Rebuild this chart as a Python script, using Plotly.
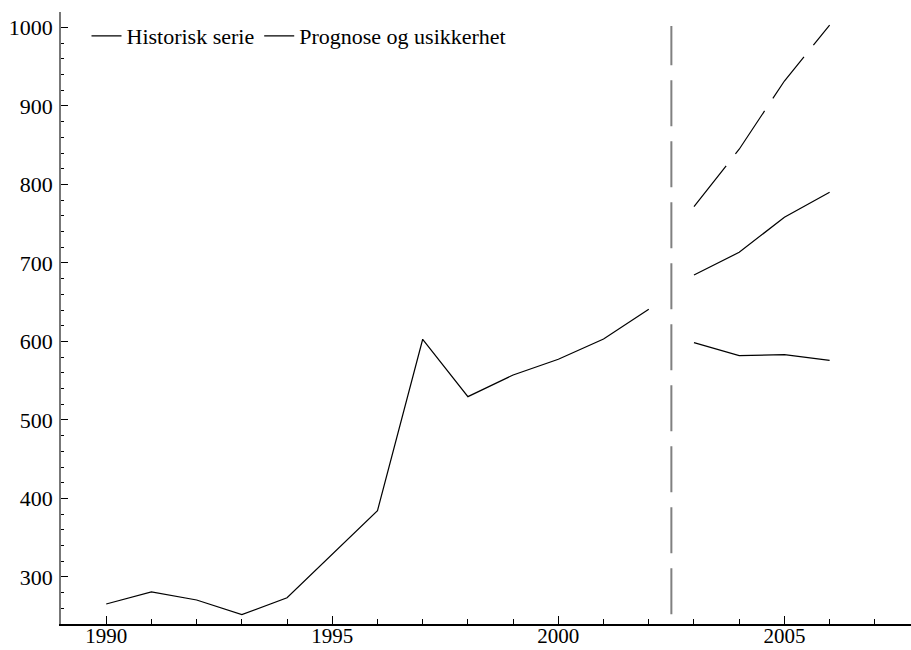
import plotly.graph_objects as go

# Historical series
hist_years = [1990, 1991, 1992, 1993, 1994, 1995, 1996, 1997, 1998, 1999, 2000, 2001, 2002]
hist_values = [265.6, 280.9, 270.7, 252.0, 273.6, 329.7, 384.5, 602.8, 529.7, 557.3, 577.3, 603.2, 641.0]

# Forecast and uncertainty band
fc_years = [2003, 2004, 2005, 2006]
fc_mid = [684.7, 713.6, 758.2, 790.0]
fc_low = [598.5, 581.9, 583.2, 576.0]
fc_high = [771.8, 844.9, 931.8, 1003.0]

# Vertical divider between history and forecast
divider_x = [2002.5, 2002.5]
divider_y = [252.6, 1002.0]

x_ticks = [1990, 1995, 2000, 2005]
y_ticks = [300, 400, 500, 600, 700, 800, 900, 1000]

FONT = "Liberation Serif"
FS = 22

fig = go.Figure()
fig.add_trace(go.Scatter(x=divider_x, y=divider_y, mode="lines",
                         line=dict(color="#808080", width=2, dash="46px,15px"),
                         showlegend=False, hoverinfo="skip"))
fig.add_trace(go.Scatter(x=hist_years, y=hist_values, mode="lines", name="Historisk serie",
                         line=dict(color="black", width=1.2)))
fig.add_trace(go.Scatter(x=fc_years, y=fc_mid, mode="lines", name="Prognose og usikkerhet",
                         line=dict(color="black", width=1.2)))
fig.add_trace(go.Scatter(x=fc_years, y=fc_low, mode="lines", showlegend=False,
                         line=dict(color="black", width=1.2)))
fig.add_trace(go.Scatter(x=fc_years, y=fc_high, mode="lines", showlegend=False,
                         line=dict(color="black", width=1.2, dash="52px,15px")))

fig.update_layout(
    width=911, height=650,
    margin=dict(l=61, r=0, t=12, b=26, autoexpand=False),
    plot_bgcolor="white", paper_bgcolor="white",
    font=dict(family=FONT, size=FS, color="black"),
    showlegend=True,
    legend=dict(orientation="h", x=0.030, xanchor="left", y=0.995, yanchor="top",
                bgcolor="rgba(0,0,0,0)", font=dict(family=FONT, size=FS),
                itemclick=False),
)
fig.update_xaxes(
    range=[1989.0, 2007.8], showgrid=False, zeroline=False, automargin=False,
    showline=True, linecolor="black", linewidth=1.5,
    tickmode="array", tickvals=x_ticks, ticktext=[str(v) for v in x_ticks],
    ticks="inside", ticklen=8, tickwidth=1, tickcolor="black",
    minor=dict(ticks="inside", ticklen=5, tickwidth=1, tickcolor="black",
               dtick=1, tick0=1990, showgrid=False),
    tickfont=dict(family=FONT, size=21),
    ticklabelstandoff=-8,
)
fig.update_yaxes(
    range=[240.1, 1019.7], showgrid=False, zeroline=False, automargin=False,
    showline=True, linecolor="#777777", linewidth=1.5,
    tickmode="array", tickvals=y_ticks, ticktext=[str(v) for v in y_ticks],
    ticks="inside", ticklen=7, tickwidth=1, tickcolor="black",
    minor=dict(ticks="inside", ticklen=3, tickwidth=1, tickcolor="black",
               dtick=20, tick0=0, showgrid=False),
    tickfont=dict(family=FONT, size=FS),
    ticklabelstandoff=2,
)

fig.write_html("out.html")
